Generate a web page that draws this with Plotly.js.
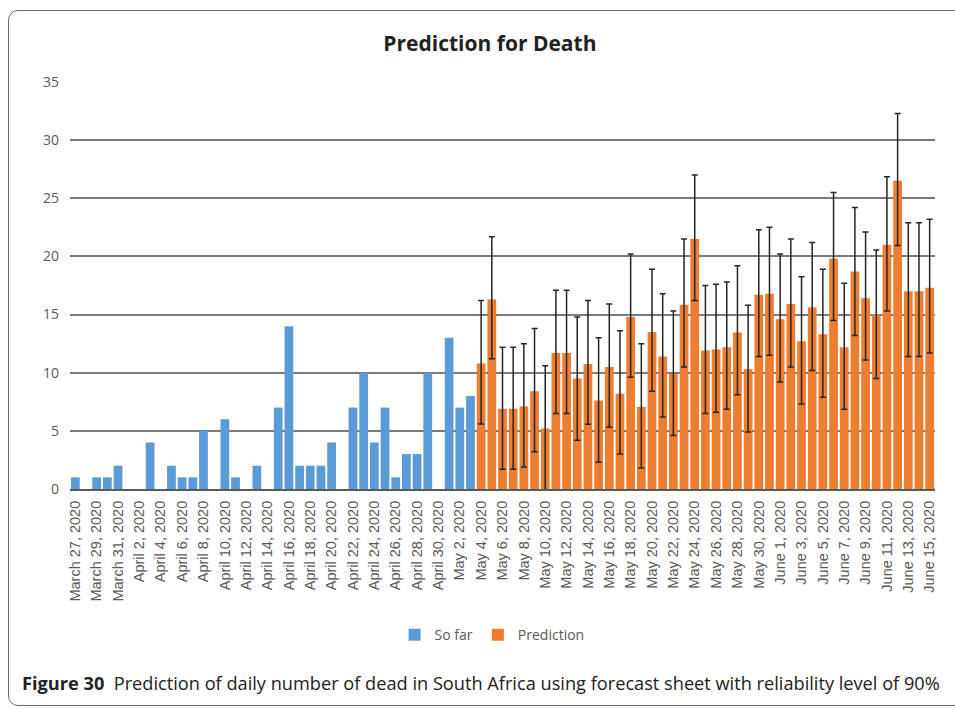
<!DOCTYPE html>
<html>
<head>
<meta charset="utf-8">
<script src="https://cdn.plot.ly/plotly-3.0.1.min.js"></script>
<style>
  body { margin: 0; background: #fff; }
  #wrap { position: relative; width: 955px; height: 709px; overflow: hidden; }
  #chart { position: absolute; left: 0; top: 0; width: 955px; height: 709px; }
  #frame {
    position: absolute; left: 8px; top: 10px; width: 990px; height: 694px;
    border: 1.5px solid #6b6b6b; border-radius: 10px; pointer-events: none;
  }
</style>
</head>
<body>
<div id="wrap">
  <div id="chart"></div>
  <div id="frame"></div>
</div>
<script>
// categories: every day from March 27 to June 15, 2020
const soFarDates = [
  'March 27, 2020', 'March 28, 2020', 'March 29, 2020', 'March 30, 2020', 'March 31, 2020',
  'April 1, 2020', 'April 2, 2020', 'April 3, 2020', 'April 4, 2020', 'April 5, 2020',
  'April 6, 2020', 'April 7, 2020', 'April 8, 2020', 'April 9, 2020', 'April 10, 2020',
  'April 11, 2020', 'April 12, 2020', 'April 13, 2020', 'April 14, 2020', 'April 15, 2020',
  'April 16, 2020', 'April 17, 2020', 'April 18, 2020', 'April 19, 2020', 'April 20, 2020',
  'April 21, 2020', 'April 22, 2020', 'April 23, 2020', 'April 24, 2020', 'April 25, 2020',
  'April 26, 2020', 'April 27, 2020', 'April 28, 2020', 'April 29, 2020', 'April 30, 2020',
  'May 1, 2020', 'May 2, 2020', 'May 3, 2020',
];
const predDates = [
  'May 4, 2020', 'May 5, 2020', 'May 6, 2020', 'May 7, 2020', 'May 8, 2020',
  'May 9, 2020', 'May 10, 2020', 'May 11, 2020', 'May 12, 2020', 'May 13, 2020',
  'May 14, 2020', 'May 15, 2020', 'May 16, 2020', 'May 17, 2020', 'May 18, 2020',
  'May 19, 2020', 'May 20, 2020', 'May 21, 2020', 'May 22, 2020', 'May 23, 2020',
  'May 24, 2020', 'May 25, 2020', 'May 26, 2020', 'May 27, 2020', 'May 28, 2020',
  'May 29, 2020', 'May 30, 2020', 'May 31, 2020',
  'June 1, 2020', 'June 2, 2020', 'June 3, 2020', 'June 4, 2020', 'June 5, 2020',
  'June 6, 2020', 'June 7, 2020', 'June 8, 2020', 'June 9, 2020', 'June 10, 2020',
  'June 11, 2020', 'June 12, 2020', 'June 13, 2020', 'June 14, 2020', 'June 15, 2020',
];

// observed daily deaths
const soFar = [
  1, 0, 1, 1, 2,
  0, 0, 4, 0, 2, 1, 1, 5, 0, 6, 1, 0, 2, 0, 7,
  14, 2, 2, 2, 4, 0, 7, 10, 4, 7, 1, 3, 3, 10, 0,
  13, 7, 8,
];

// forecast with 90% bounds
const prediction = [
  10.8, 16.3, 6.9, 6.9, 7.1, 8.4, 5.2, 11.7, 11.7, 9.5,
  10.75, 7.6, 10.5, 8.2, 14.8, 7.05, 13.5, 11.4, 9.9, 15.85,
  21.5, 11.9, 12.0, 12.2, 13.45, 10.3, 16.7, 16.8,
  14.6, 15.9, 12.7, 15.6, 13.3, 19.8, 12.2, 18.7, 16.4, 15.0,
  21.0, 26.5, 17.0, 17.0, 17.3,
];
const predUpper = [
  16.2, 21.7, 12.2, 12.2, 12.5, 13.8, 10.6, 17.1, 17.1, 14.8,
  16.2, 13.0, 15.9, 13.6, 20.2, 12.5, 18.9, 16.8, 15.3, 21.5,
  27.0, 17.5, 17.6, 17.8, 19.2, 15.8, 22.3, 22.5,
  20.2, 21.5, 18.25, 21.2, 18.9, 25.5, 17.7, 24.2, 22.1, 20.55,
  26.85, 32.3, 22.9, 22.9, 23.2,
];
const predLower = [
  5.6, 11.2, 1.7, 1.7, 1.9, 3.2, -0.2, 6.5, 6.5, 4.2,
  5.56, 2.3, 5.3, 3.0, 9.6, 1.8, 8.4, 6.2, 4.6, 10.5,
  16.2, 6.5, 6.6, 6.85, 8.1, 4.9, 11.4, 11.5,
  9.2, 10.5, 7.3, 10.2, 7.9, 14.5, 6.85, 13.2, 11.1, 9.5,
  15.3, 20.95, 11.4, 11.4, 11.7,
];

const allDates = [...soFarDates, ...predDates];
const tickDates = allDates.filter((d, i) => i % 2 === 0);

const FONT = '"Open Sans", "Liberation Sans", sans-serif';
const GREY = '#595959';

const traces = [
  {
    type: 'bar',
    name: 'So far',
    x: soFarDates,
    y: soFar,
    marker: { color: '#5b9bd5' },
  },
  {
    type: 'bar',
    name: 'Prediction',
    x: predDates,
    y: prediction,
    marker: { color: '#ed7d31' },
    error_y: {
      type: 'data',
      symmetric: false,
      array: predUpper.map((u, i) => u - prediction[i]),
      arrayminus: predLower.map((l, i) => prediction[i] - l),
      color: '#262626',
      thickness: 1.5,
      width: 3,
    },
  },
];

const layout = {
  width: 955,
  height: 709,
  margin: { l: 70, r: 20, t: 82, b: 220 },
  paper_bgcolor: 'rgba(0,0,0,0)',
  plot_bgcolor: 'rgba(0,0,0,0)',
  font: { family: FONT, color: GREY },
  title: {
    text: '<b>Prediction for Death</b>',
    font: { family: FONT, size: 21, color: '#222' },
    x: 0.513,
    xanchor: 'center',
    y: 0.939,
    yanchor: 'middle',
  },
  barmode: 'overlay',
  bargap: 0.18,
  xaxis: {
    type: 'category',
    categoryorder: 'array',
    categoryarray: allDates,
    tickmode: 'array',
    tickvals: tickDates,
    ticktext: tickDates,
    tickangle: -90,
    tickfont: { family: '"Liberation Sans", Arial, sans-serif', size: 14.5, color: GREY },
    ticks: '',
    ticklabelstandoff: 4,
    showgrid: false,
    showline: true,
    linecolor: '#595959',
    linewidth: 2,
    fixedrange: true,
  },
  yaxis: {
    range: [0, 35],
    dtick: 5,
    showgrid: true,
    gridcolor: '#7a7a7a',
    gridwidth: 2,
    zeroline: false,
    ticks: '',
    ticklabelstandoff: 10,
    tickfont: { family: FONT, size: 14, color: GREY },
    fixedrange: true,
  },
  showlegend: true,
  legend: {
    orientation: 'h',
    x: 0.488,
    xanchor: 'center',
    y: -0.359,
    yanchor: 'middle',
    font: { family: FONT, size: 14, color: GREY },
    itemwidth: 30,
  },
  annotations: [
    {
      xref: 'paper',
      yref: 'paper',
      x: -0.058,
      xanchor: 'left',
      y: -0.477,
      yanchor: 'middle',
      showarrow: false,
      align: 'left',
      text: '<b>Figure 30</b>  Prediction of daily number of dead in South Africa using forecast sheet with reliability level of 90%',
      font: { family: FONT, size: 18.2, color: '#222' },
    },
  ],
};

Plotly.newPlot('chart', traces, layout, { displayModeBar: false, staticPlot: true });
</script>
</body>
</html>
